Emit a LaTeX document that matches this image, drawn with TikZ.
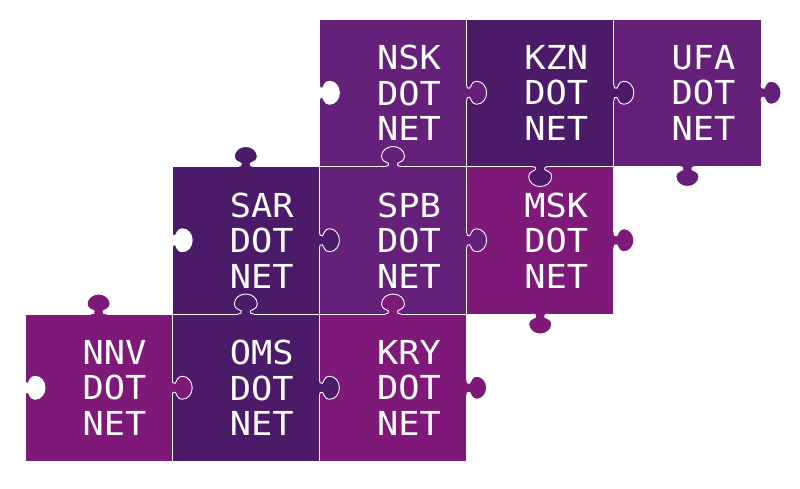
\documentclass[tikz,border=0pt]{standalone}
\usepackage{fontspec}
\newfontfamily\puzzlefont[FakeStretch=1.07]{DejaVu Sans Mono}
\definecolor{pmid}{HTML}{65207A}
\definecolor{pdark}{HTML}{4B1A69}
\definecolor{pmag}{HTML}{7E1979}
\tikzset{
  piece/.style={draw=white, line width=0.9pt, minimum width=147.2pt, minimum height=147.5pt, inner sep=0pt},
  lbl/.style={text=white, font=\puzzlefont\fontsize{33}{35.5}\selectfont, align=center, inner sep=0pt},
  tabline/.style={draw=white, line width=0.9pt},
  tdR/.style={x={(0pt,1pt)}, y={(1pt,0pt)}},
  tdU/.style={x={(1pt,0pt)}, y={(0pt,1pt)}},
  tdD/.style={x={(1pt,0pt)}, y={(0pt,-1pt)}},
}
\newcommand\ptab[4]{%
  \begin{scope}[shift={(#1pt,-#2pt)}, td#3]
    \fill[#4] (-8,-1.6) -- (-8,0) .. controls (-5,0) and (-4,1) .. (-4.5,3)
      .. controls (-6,4.5) and (-11.5,5) .. (-11.5,10)
      .. controls (-11.5,16) and (-6,20) .. (0,20)
      .. controls (6,20) and (11.5,16) .. (11.5,10)
      .. controls (11.5,5) and (6,4.5) .. (4.5,3)
      .. controls (4,1) and (5,0) .. (8,0) -- (8,-1.6) -- cycle;
    \draw[tabline] (-8,0) .. controls (-5,0) and (-4,1) .. (-4.5,3)
      .. controls (-6,4.5) and (-11.5,5) .. (-11.5,10)
      .. controls (-11.5,16) and (-6,20) .. (0,20)
      .. controls (6,20) and (11.5,16) .. (11.5,10)
      .. controls (11.5,5) and (6,4.5) .. (4.5,3)
      .. controls (4,1) and (5,0) .. (8,0);
  \end{scope}}
\begin{document}
\begin{tikzpicture}[x=1pt, y=-1pt]
\useasboundingbox (0,0) rectangle (800,488);
% pieces
\node[piece, fill=pmid]  (nsk) at (393.0, 92.75) {};
\node[piece, fill=pdark] (kzn) at (540.2, 92.75) {};
\node[piece, fill=pmid]  (ufa) at (687.4, 92.75) {};
\node[piece, fill=pdark] (sar) at (245.8, 240.25) {};
\node[piece, fill=pmid]  (spb) at (393.0, 240.25) {};
\node[piece, fill=pmag]  (msk) at (540.2, 240.25) {};
\node[piece, fill=pmag]  (nnv) at (98.6, 387.75) {};
\node[piece, fill=pdark] (oms) at (245.8, 387.75) {};
\node[piece, fill=pmag]  (kry) at (393.0, 387.75) {};
% tabs and sockets
\ptab{319.4}{92.75}{R}{white}
\ptab{466.6}{92.75}{R}{pmid}
\ptab{613.8}{92.75}{R}{pdark}
\ptab{761.0}{92.75}{R}{pmid}
\ptab{687.4}{166.5}{D}{pmid}
\ptab{393.0}{166.5}{U}{pmid}
\ptab{540.2}{166.5}{D}{pdark}
\ptab{245.8}{166.5}{U}{pdark}
\ptab{172.2}{240.25}{R}{white}
\ptab{319.4}{240.25}{R}{pdark}
\ptab{466.6}{240.25}{R}{pmid}
\ptab{613.8}{240.25}{R}{pmag}
\ptab{540.2}{314}{D}{pmag}
\ptab{245.8}{314}{U}{pdark}
\ptab{393.0}{314}{U}{pmag}
\ptab{98.6}{314}{U}{pmag}
\ptab{25.0}{387.75}{R}{white}
\ptab{172.2}{387.75}{R}{pmag}
\ptab{319.4}{387.75}{R}{pdark}
\ptab{466.6}{387.75}{R}{pmag}
% labels
\node[lbl] (nsk-l) at ([xshift=16pt]nsk.center) {NSK\\DOT\\NET};
\node[lbl] (kzn-l) at ([xshift=16pt]kzn.center) {KZN\\DOT\\NET};
\node[lbl] (ufa-l) at ([xshift=16pt]ufa.center) {UFA\\DOT\\NET};
\node[lbl] (sar-l) at ([xshift=16pt]sar.center) {SAR\\DOT\\NET};
\node[lbl] (spb-l) at ([xshift=16pt]spb.center) {SPB\\DOT\\NET};
\node[lbl] (msk-l) at ([xshift=16pt]msk.center) {MSK\\DOT\\NET};
\node[lbl] (nnv-l) at ([xshift=16pt]nnv.center) {NNV\\DOT\\NET};
\node[lbl] (oms-l) at ([xshift=16pt]oms.center) {OMS\\DOT\\NET};
\node[lbl] (kry-l) at ([xshift=16pt]kry.center) {KRY\\DOT\\NET};
\end{tikzpicture}
\end{document}
